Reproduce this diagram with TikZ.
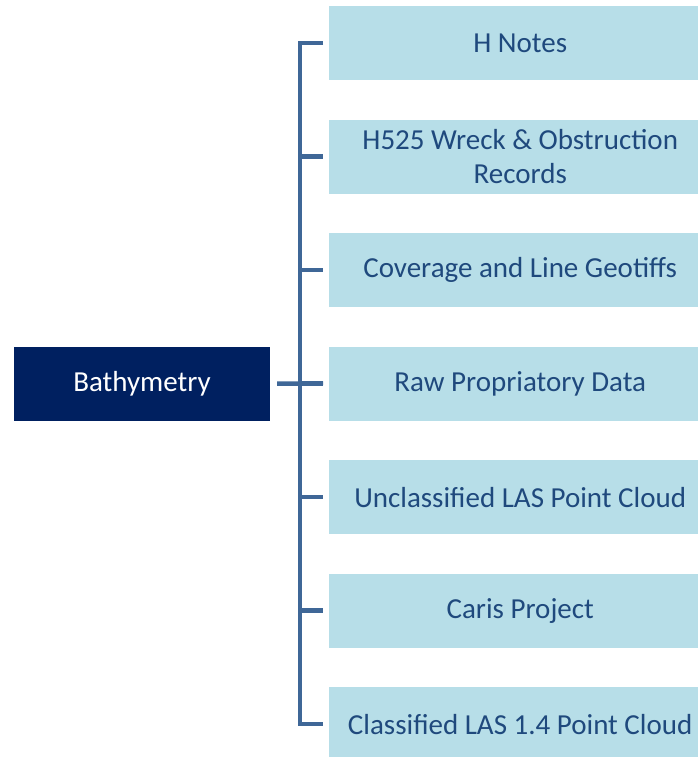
\documentclass[tikz,border=0pt]{standalone}
\usepackage{fontspec}
\setmainfont{Carlito}
\definecolor{rootfill}{HTML}{002060}
\definecolor{leaffill}{HTML}{B7DEE8}
\definecolor{leaftext}{HTML}{1F497D}
\definecolor{linkcol}{HTML}{3F6797}
\tikzset{
  rootbox/.style={fill=rootfill, text=white, minimum width=256pt, minimum height=74pt,
    inner sep=0pt, font=\fontsize{29}{34}\selectfont},
  leafbox/.style={fill=leaffill, text=leaftext, minimum width=382pt, minimum height=74pt,
    inner sep=0pt, anchor=north west, align=center, font=\fontsize{29}{34}\selectfont},
  link/.style={draw=linkcol, line width=4.5pt, line join=miter}
}
\begin{document}
\begin{tikzpicture}[x=1pt,y=1pt]
\useasboundingbox (0,0) rectangle (697,-757);
% root
\node[rootbox] (bath) at (142,-383.5) {Bathymetry};
% leaves, one row every 113.5pt; they run past the right edge of the page
\node[leafbox] (b1) at (329,-6) {H Notes};
\node[leafbox] (b2) at (329,-119.5) {H525 Wreck \& Obstruction\\Records};
\node[leafbox] (b3) at (329,-233) {Coverage and Line Geotiffs};
\node[leafbox] (b4) at (329,-346.5) {Raw Propriatory Data};
\node[leafbox] (b5) at (329,-460) {Unclassified LAS Point Cloud};
\node[leafbox] (b6) at (329,-573.5) {Caris Project};
\node[leafbox] (b7) at (329,-687) {Classified LAS 1.4 Point Cloud};
% bracket
\coordinate (trunk) at (300,0);
\draw[link, shorten <=6pt, shorten >=6pt] (b1.west) -- (b1.west -| trunk) -- (b7.west -| trunk) -- (b7.west);
\foreach \i in {2,...,6}
  \draw[link, shorten >=6pt] (trunk |- b\i.west) -- (b\i.west);
\draw[link, shorten <=7pt, shorten >=6pt] (bath.east) -- (b4.west);
\end{tikzpicture}
\end{document}
